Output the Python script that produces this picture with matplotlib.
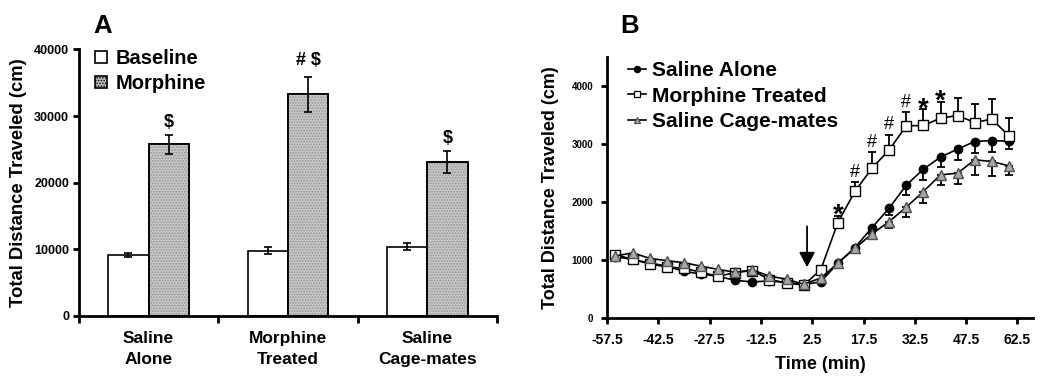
import numpy as np
import matplotlib
matplotlib.use("Agg")
import matplotlib.pyplot as plt
from matplotlib.lines import Line2D
from matplotlib.patches import Patch

plt.rcParams['font.family'] = ['Liberation Sans', 'DejaVu Sans']
plt.rcParams['font.weight'] = 'bold'
plt.rcParams['hatch.linewidth'] = 0.8

# ---------------- Panel A data ----------------
groups = ["Saline\nAlone", "Morphine\nTreated", "Saline\nCage-mates"]
baseline = [9150, 9800, 10400]
baseline_sem = [350, 500, 500]
morphine = [25750, 33250, 23050]
morphine_sem = [1450, 2650, 1650]
a_marks = ["$", "# $", "$"]
a_mark_y = [28350, 37650, 25950]
a_yticks = [0, 10000, 20000, 30000, 40000]

# ---------------- Panel B data ----------------
time = [-55, -50, -45, -40, -35, -30, -25, -20, -15, -10, -5, 0,
        5, 10, 15, 20, 25, 30, 35, 40, 45, 50, 55, 60]
saline_alone = [1060, 1010, 950, 895, 805, 760, 720, 650, 625, 640, 615, 580,
                625, 947, 1215, 1560, 1894, 2290, 2565, 2772, 2910, 3041, 3058, 3045]
saline_alone_sem = [0, 0, 0, 0, 0, 0, 0, 0, 0, 0, 0, 0,
                    0, 0, 0, 80, 115, 170, 185, 170, 185, 190, 190, 130]
morphine_treated = [1095, 1010, 935, 880, 860, 790, 720, 785, 820, 665, 605, 570,
                    832, 1646, 2185, 2582, 2898, 3311, 3317, 3443, 3488, 3368, 3426, 3139]
morphine_treated_sem = [0, 0, 0, 0, 0, 0, 0, 0, 0, 0, 0, 0,
                        0, 115, 160, 270, 258, 230, 280, 270, 310, 316, 344, 315]
cage_mates = [1070, 1125, 1030, 990, 955, 895, 840, 790, 830, 725, 670, 585,
              690, 947, 1205, 1451, 1663, 1911, 2180, 2467, 2496, 2726, 2697, 2622]
cage_mates_sem = [0, 0, 0, 0, 0, 0, 0, 0, 0, 0, 0, 0,
                  0, 0, 0, 90, 115, 170, 190, 170, 185, 260, 250, 155]
b_marks = ["*", "#", "#", "#", "#", "*", "*"]
b_mark_t = [10, 15, 20, 25, 30, 35, 40]
b_mark_y = [1650, 2428, 2944, 3254, 3633, 3469, 3600]
b_xticks = [-57.5, -42.5, -27.5, -12.5, 2.5, 17.5, 32.5, 47.5, 62.5]
b_xticklabels = ["-57.5", "-42.5", "-27.5", "-12.5", "2.5", "17.5", "32.5", "47.5", "62.5"]
b_yticks = [0, 1000, 2000, 3000, 4000]
injection_t = 1
arrow_top, arrow_tip = 1580, 878

fig = plt.figure(figsize=(10.5, 3.88), dpi=100)

# ================= Panel A =================
axA = fig.add_axes([0.0752, 0.1856, 0.398, 0.687])
x = np.arange(len(groups))
w = 0.29
axA.bar(x - w/2, baseline, w, color='white', edgecolor='black', linewidth=1.2, zorder=2)
axA.bar(x + w/2, morphine, w, color='#c6c6c6', edgecolor='black', linewidth=1.2, zorder=2)
axA.bar(x + w/2, morphine, w, color='none', edgecolor='#959595', hatch='......', linewidth=0, zorder=3)
axA.bar(x + w/2, morphine, w, color='none', edgecolor='black', linewidth=1.2, zorder=4)
axA.errorbar(x - w/2, baseline, yerr=baseline_sem, fmt='none', ecolor='black',
             elinewidth=1.2, capsize=3, capthick=1.2, zorder=5)
axA.errorbar(x + w/2, morphine, yerr=morphine_sem, fmt='none', ecolor='black',
             elinewidth=1.2, capsize=3, capthick=1.2, zorder=5)
for xi, m, my in zip(x, a_marks, a_mark_y):
    axA.text(xi + w/2, my, m, ha='center', va='baseline', fontsize=13, fontweight='bold')

axA.set_xlim(-0.5, 2.5)
axA.set_ylim(0, 40000)
axA.set_yticks(a_yticks)
axA.set_yticklabels([str(v) for v in a_yticks])
axA.set_xticks([-0.5, 0.5, 1.5, 2.5])
axA.set_xticklabels([])
axA.set_xticks(x, minor=True)
axA.set_xticklabels(groups, minor=True, fontsize=12.5, fontweight='bold', linespacing=1.45)
axA.tick_params(axis='x', which='minor', length=0, pad=11)
axA.tick_params(axis='x', which='major', length=5, width=2, direction='out')
axA.tick_params(axis='y', length=4, width=2, direction='out', labelsize=9, pad=3)
for s in ['top', 'right']:
    axA.spines[s].set_visible(False)
for s in ['left', 'bottom']:
    axA.spines[s].set_linewidth(2)
axA.set_ylabel("Total Distance Traveled (cm)", fontsize=13.3, fontweight='bold')
axA.yaxis.set_label_coords(-0.124, 0.5)

legA = axA.legend(handles=[Patch(facecolor='white', edgecolor='black', linewidth=1.2),
                           Patch(facecolor='#c6c6c6', edgecolor='black', linewidth=1.2, hatch='......')],
                  labels=["Baseline", "Morphine"], loc='upper left',
                  bbox_to_anchor=(95/1050, 1 - 49/388), bbox_transform=fig.transFigure,
                  frameon=False, fontsize=14.5, handlelength=0.6, handleheight=0.6,
                  handletextpad=0.4, labelspacing=0.3, borderpad=0, borderaxespad=0)
for t in legA.get_texts():
    t.set_fontweight('bold')

# ================= Panel B =================
axB = fig.add_axes([0.578, 0.180, 0.4057, 0.6737])
t_arr = np.array(time)
series = [
    (saline_alone, saline_alone_sem, 'o', 'black', 'black', 'lower', "Saline Alone"),
    (morphine_treated, morphine_treated_sem, 's', 'white', 'black', 'upper', "Morphine Treated"),
    (cage_mates, cage_mates_sem, '^', '#a8a8a8', '#505050', 'lower', "Saline Cage-mates"),
]
handles = []
for i, (vals, sem, mk, fc, ec, side, lab) in enumerate(series):
    vals = np.array(vals, float)
    sem = np.array(sem, float)
    mask = sem > 0
    zeros = np.zeros(mask.sum())
    yerr = [sem[mask], zeros] if side == 'lower' else [zeros, sem[mask]]
    axB.errorbar(t_arr[mask], vals[mask], yerr=yerr, fmt='none', ecolor='black',
                 elinewidth=1.3, capsize=2.6, capthick=1.3, zorder=2 + i)
    ms = 6.5 if mk != 'o' else 6
    axB.plot(t_arr, vals, '-', color='black', linewidth=1.2, marker=mk, markersize=ms,
             markerfacecolor=fc, markeredgecolor=ec if mk != 's' else 'black',
             markeredgewidth=1.0, zorder=5 + i)
    handles.append(Line2D([0], [0], color='black', linewidth=1.2, marker=mk, markersize=ms * 0.75,
                          markerfacecolor=fc, markeredgecolor=ec, markeredgewidth=0.9))

for m, mt, my in zip(b_marks, b_mark_t, b_mark_y):
    axB.text(mt, my, m, ha='center', va='baseline',
             fontsize=20 if m == '*' else 13,
             fontweight='bold' if m == '*' else 'normal')

axB.annotate('', xy=(injection_t, arrow_tip), xytext=(injection_t, arrow_top),
             arrowprops=dict(arrowstyle='-|>,head_length=0.45,head_width=0.24', lw=1.3,
                             color='black', mutation_scale=20, shrinkA=0, shrinkB=0))

axB.set_xlim(-57.5, 67)
axB.set_ylim(0, 4500)
axB.set_xticks(b_xticks)
axB.set_xticklabels(b_xticklabels)
axB.set_yticks(b_yticks)
axB.set_yticklabels([str(v) for v in b_yticks])
axB.tick_params(axis='x', length=4, width=2, direction='out', labelsize=10, pad=7)
axB.tick_params(axis='y', length=4, width=2, direction='out', labelsize=7, pad=6)
for s in ['top', 'right']:
    axB.spines[s].set_visible(False)
for s in ['left', 'bottom']:
    axB.spines[s].set_linewidth(2)
axB.set_xlabel("Time (min)", fontsize=13, fontweight='bold', labelpad=6)
axB.set_ylabel("Total Distance Traveled (cm)", fontsize=13, fontweight='bold')
axB.yaxis.set_label_coords(-0.113, 0.5)

legB = axB.legend(handles=handles, labels=[s[-1] for s in series], loc='upper left',
                  bbox_to_anchor=(628/1050, 1 - 61/388), bbox_transform=fig.transFigure,
                  frameon=False, fontsize=15, handlelength=0.85, handletextpad=0.3,
                  labelspacing=0.32, borderpad=0, borderaxespad=0)
for t in legB.get_texts():
    t.set_fontweight('bold')

fig.text(93/1050, 1 - 33.3/388, "A", fontsize=18.5, fontweight='bold', va='baseline', ha='left')
fig.text(620/1050, 1 - 33.3/388, "B", fontsize=18.5, fontweight='bold', va='baseline', ha='left')

fig.savefig("out.png", dpi=100)
